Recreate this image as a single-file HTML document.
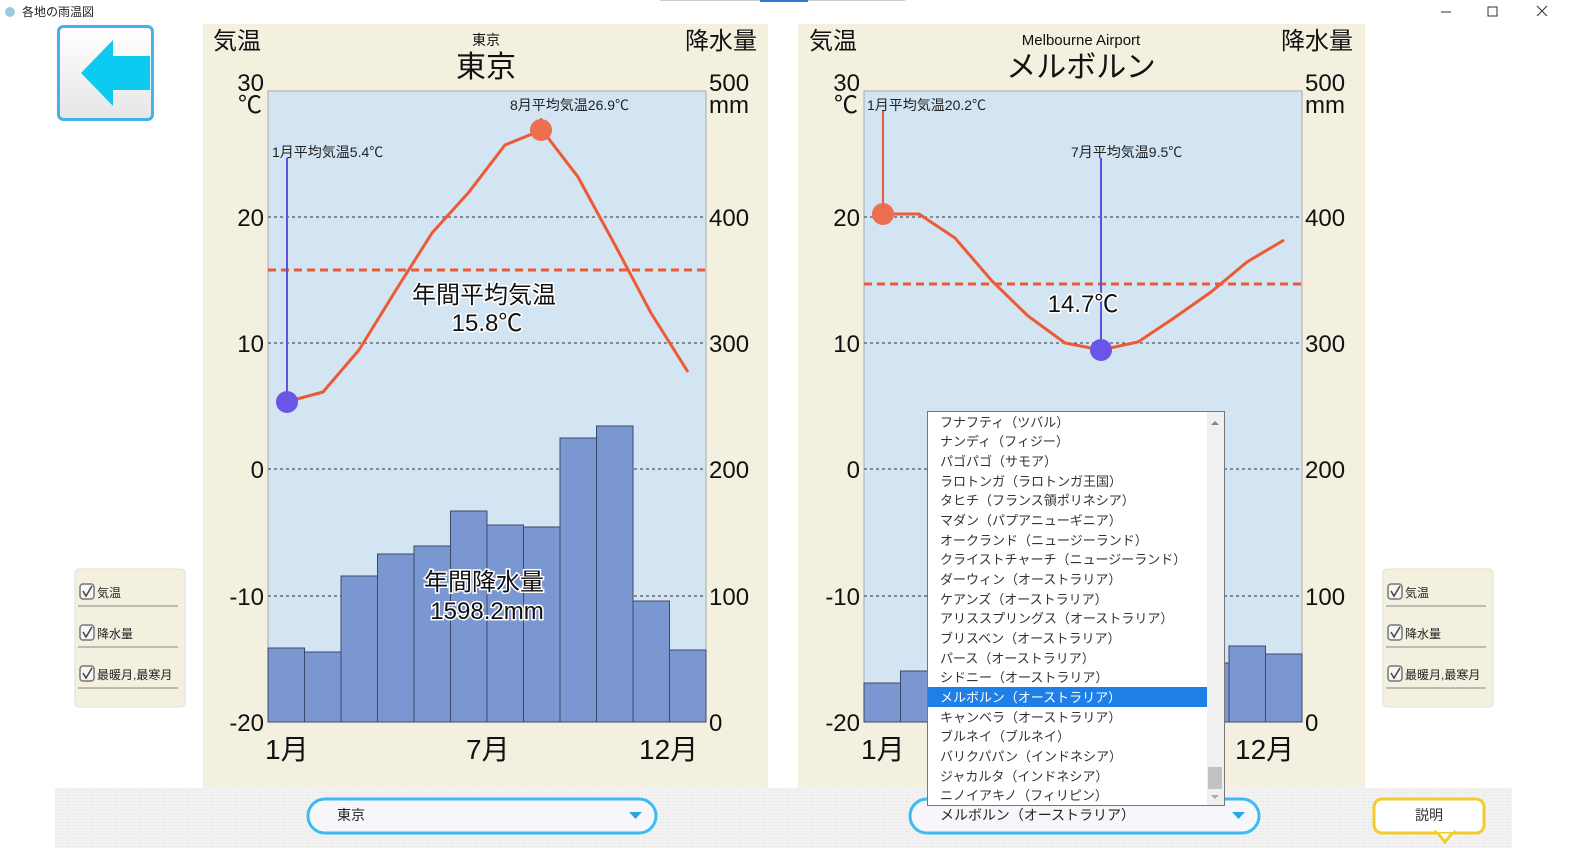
<!DOCTYPE html><html><head><meta charset="utf-8"><style>
body{margin:0;width:1580px;height:848px;overflow:hidden;background:#fff;font-family:"Liberation Sans","Noto Sans CJK JP",sans-serif}
svg{display:block}
</style></head><body>
<svg width="1580" height="848" viewBox="0 0 1580 848" font-family="Liberation Sans, Noto Sans CJK JP, sans-serif">
<defs>
<linearGradient id="bg1" x1="0" y1="0" x2="0" y2="1"><stop offset="0" stop-color="#fff"/><stop offset="1" stop-color="#e6e6e6"/></linearGradient>
<pattern id="dots" width="3" height="3" patternUnits="userSpaceOnUse"><rect width="3" height="3" fill="#f2f2f2"/><rect width="1" height="1" fill="#e2e2e2"/></pattern>
</defs>
<!-- title bar -->
<circle cx="10" cy="12" r="5" fill="#9cc9dc"/>
<text x="22" y="16" font-size="12" fill="#222">各地の雨温図</text>
<line x1="660" y1="0.5" x2="905" y2="0.5" stroke="#ccc"/>
<line x1="760" y1="1" x2="808" y2="1" stroke="#2b7bd0" stroke-width="2"/>
<line x1="1441" y1="12" x2="1451" y2="12" stroke="#333"/>
<rect x="1488" y="7" width="9" height="9" fill="none" stroke="#333"/>
<path d="M1537 6l10 10M1547 6l-10 10" stroke="#333"/>
<!-- back button -->
<rect x="58.5" y="26.5" width="94" height="93" rx="5" fill="url(#bg1)" stroke="#44b3e8" stroke-width="3"/>
<path d="M81 73 L113 40 L113 56 L150 56 L150 90 L113 90 L113 106 Z" fill="#0ccaf0"/>
<!-- panels -->
<rect x="203" y="24" width="565" height="764" fill="#f3f0df"/>
<rect x="798" y="24" width="567" height="764" fill="#f3f0df"/>
<!-- LEFT CHART -->
<g>
<rect x="268" y="91" width="438" height="631" fill="#d3e4f3" stroke="#aaa"/>
<g stroke="#555" stroke-dasharray="3,3" stroke-width="1.2">
<line x1="268" y1="217" x2="706" y2="217"/><line x1="268" y1="343" x2="706" y2="343"/><line x1="268" y1="469" x2="706" y2="469"/><line x1="268" y1="596" x2="706" y2="596"/>
</g>
<g fill="#7b97d1" stroke="#3c4a6a" stroke-width="1">
<rect x="268" y="648" width="36.5" height="74"/><rect x="304.5" y="652" width="36.5" height="70"/><rect x="341" y="576" width="36.5" height="146"/><rect x="377.5" y="554" width="36.5" height="168"/><rect x="414" y="546" width="36.5" height="176"/><rect x="450.5" y="511" width="36.5" height="211"/><rect x="487" y="525" width="36.5" height="197"/><rect x="523.5" y="527" width="36.5" height="195"/><rect x="560" y="438" width="36.5" height="284"/><rect x="596.5" y="426" width="36.5" height="296"/><rect x="633" y="601" width="36.5" height="121"/><rect x="669.5" y="650" width="36.5" height="72"/>
</g>
<line x1="268" y1="270" x2="706" y2="270" stroke="#e85a3a" stroke-width="3" stroke-dasharray="8,5"/>
<polyline points="286,402 323,392 359,350 396,290 432,233 469,192 505,145 542,130 578,177 615,245 651,313 688,372" fill="none" stroke="#ec5a36" stroke-width="3"/>
<line x1="287" y1="158" x2="287" y2="402" stroke="#6050e0" stroke-width="2"/>
<line x1="541" y1="118" x2="541" y2="130" stroke="#e85a3a" stroke-width="2"/>
<circle cx="287" cy="402" r="11" fill="#6a55e8"/>
<circle cx="541" cy="130" r="11" fill="#ee6f4f"/>
<text x="272" y="157" font-size="14" fill="#222">1月平均気温5.4℃</text>
<text x="510" y="110" font-size="14" fill="#222">8月平均気温26.9℃</text>
<g font-size="24" fill="#111" text-anchor="middle" stroke="#fff" stroke-width="3" paint-order="stroke">
<text x="484" y="303">年間平均気温</text><text x="487" y="331">15.8℃</text>
<text x="484" y="590">年間降水量</text><text x="487" y="619">1598.2mm</text>
</g>
<g font-size="24" fill="#111">
<text x="213" y="49">気温</text><text x="685" y="49">降水量</text>
<text x="486" y="45" font-size="14" text-anchor="middle">東京</text>
<text x="486" y="77" font-size="30" text-anchor="middle">東京</text>
<g text-anchor="end"><text x="264" y="91">30</text><text x="262" y="113">℃</text><text x="264" y="226">20</text><text x="264" y="352">10</text><text x="264" y="478">0</text><text x="264" y="605">-10</text><text x="264" y="731">-20</text></g>
<text x="709" y="91">500</text><text x="709" y="113">mm</text><text x="709" y="226">400</text><text x="709" y="352">300</text><text x="709" y="478">200</text><text x="709" y="605">100</text><text x="709" y="731">0</text>
<g font-size="28"><text x="265" y="759">1月</text><text x="466" y="759">7月</text><text x="639" y="759">12月</text></g>
</g>
</g>
<!-- RIGHT CHART -->
<g>
<rect x="864" y="91" width="438" height="631" fill="#d3e4f3" stroke="#aaa"/>
<g stroke="#555" stroke-dasharray="3,3" stroke-width="1.2">
<line x1="864" y1="217" x2="1302" y2="217"/><line x1="864" y1="343" x2="1302" y2="343"/><line x1="864" y1="469" x2="1302" y2="469"/><line x1="864" y1="596" x2="1302" y2="596"/>
</g>
<g fill="#7b97d1" stroke="#3c4a6a" stroke-width="1">
<rect x="864" y="683" width="36.5" height="39"/><rect x="900.5" y="671" width="36.5" height="51"/><rect x="937" y="675" width="36.5" height="47"/><rect x="973.5" y="668" width="36.5" height="54"/><rect x="1010" y="672" width="36.5" height="50"/><rect x="1046.5" y="678" width="36.5" height="44"/><rect x="1083" y="680" width="36.5" height="42"/><rect x="1119.5" y="674" width="36.5" height="48"/><rect x="1156" y="666" width="36.5" height="56"/><rect x="1192.5" y="663" width="36.5" height="59"/><rect x="1229" y="646" width="36.5" height="76"/><rect x="1265.5" y="654" width="36.5" height="68"/>
</g>
<line x1="864" y1="284" x2="1302" y2="284" stroke="#e85a3a" stroke-width="3" stroke-dasharray="8,5"/>
<polyline points="882,214 919,214 955,238 992,281 1028,316 1065,343 1101,350 1138,342 1174,318 1211,292 1247,262 1284,240" fill="none" stroke="#ec5a36" stroke-width="3"/>
<line x1="883" y1="110" x2="883" y2="214" stroke="#e85a3a" stroke-width="2"/>
<line x1="1101" y1="158" x2="1101" y2="350" stroke="#6050e0" stroke-width="2"/>
<circle cx="883" cy="214" r="11" fill="#ee6f4f"/>
<circle cx="1101" cy="350" r="11" fill="#6a55e8"/>
<text x="867" y="110" font-size="14" fill="#222">1月平均気温20.2℃</text>
<text x="1071" y="157" font-size="14" fill="#222">7月平均気温9.5℃</text>
<text x="1083" y="312" font-size="24" fill="#111" text-anchor="middle" stroke="#fff" stroke-width="3" paint-order="stroke">14.7℃</text>
<g font-size="24" fill="#111">
<text x="809" y="49">気温</text><text x="1281" y="49">降水量</text>
<text x="1081" y="45" font-size="15" text-anchor="middle">Melbourne Airport</text>
<text x="1081" y="77" font-size="30" text-anchor="middle">メルボルン</text>
<g text-anchor="end"><text x="860" y="91">30</text><text x="858" y="113">℃</text><text x="860" y="226">20</text><text x="860" y="352">10</text><text x="860" y="478">0</text><text x="860" y="605">-10</text><text x="860" y="731">-20</text></g>
<text x="1305" y="91">500</text><text x="1305" y="113">mm</text><text x="1305" y="226">400</text><text x="1305" y="352">300</text><text x="1305" y="478">200</text><text x="1305" y="605">100</text><text x="1305" y="731">0</text>
<g font-size="28"><text x="861" y="759">1月</text><text x="1235" y="759">12月</text></g>
</g>
</g>
<!-- checkbox panels -->
<g id="cb">
<rect x="75" y="569" width="110" height="138" rx="4" fill="#f3f0df" stroke="#e2e0d6"/>
<g font-size="12" fill="#222">
<rect x="80" y="584" width="14" height="15" rx="3" fill="#f6f6f6" stroke="#777" stroke-width="1.5"/><path d="M83 591l3 5 6-10" fill="none" stroke="#444" stroke-width="1.5"/><text x="97" y="597">気温</text>
<line x1="78" y1="606" x2="178" y2="606" stroke="#aaa" stroke-width="1.5"/>
<rect x="80" y="625" width="14" height="15" rx="3" fill="#f6f6f6" stroke="#777" stroke-width="1.5"/><path d="M83 632l3 5 6-10" fill="none" stroke="#444" stroke-width="1.5"/><text x="97" y="638">降水量</text>
<line x1="78" y1="647" x2="178" y2="647" stroke="#aaa" stroke-width="1.5"/>
<rect x="80" y="666" width="14" height="15" rx="3" fill="#f6f6f6" stroke="#777" stroke-width="1.5"/><path d="M83 673l3 5 6-10" fill="none" stroke="#444" stroke-width="1.5"/><text x="97" y="679">最暖月,最寒月</text>
<line x1="78" y1="688" x2="178" y2="688" stroke="#aaa" stroke-width="1.5"/>
</g>
</g>
<use href="#cb" x="1308"/>
<!-- bottom bar -->
<rect x="55" y="788" width="1457" height="60" fill="url(#dots)"/>
<rect x="308" y="799" width="348" height="34" rx="17" fill="#f7f7fb" stroke="#3bbbee" stroke-width="3"/>
<text x="337" y="820" font-size="14" fill="#222">東京</text>
<path d="M629 812h13l-6.5 7z" fill="#2aa6e6"/>
<rect x="910" y="799" width="349" height="34" rx="17" fill="#f7f7fb" stroke="#3bbbee" stroke-width="3"/>
<text x="940" y="820" font-size="14" fill="#222">メルボルン（オーストラリア）</text>
<path d="M1232 812h13l-6.5 7z" fill="#2aa6e6"/>
<rect x="1374" y="799" width="110" height="34" rx="8" fill="#fff" stroke="#f2cc2a" stroke-width="3"/>
<path d="M1437 832l8 10 8-10z" fill="#fff" stroke="#f2cc2a" stroke-width="3"/>
<rect x="1437" y="829" width="16" height="3" fill="#fff"/>
<text x="1429" y="820" font-size="14" fill="#333" text-anchor="middle">説明</text>
<!-- dropdown list -->
<rect x="927.5" y="411.5" width="297" height="394" fill="#fff" stroke="#777"/>
<rect x="1207" y="412" width="17" height="393" fill="#f0f0f0"/>
<rect x="1208" y="767" width="14" height="22" fill="#c2c2c2"/>
<path d="M1211 425l4-4 4 4z" fill="#888"/><path d="M1211 795l4 4 4-4z" fill="#aaa"/>
<rect x="928" y="687" width="279" height="20" fill="#1e7fe6"/>
<g font-size="13" fill="#333">
<text x="940" y="427">フナフティ（ツバル）</text>
<text x="940" y="446">ナンディ（フィジー）</text>
<text x="940" y="466">パゴパゴ（サモア）</text>
<text x="940" y="486">ラロトンガ（ラロトンガ王国）</text>
<text x="940" y="505">タヒチ（フランス領ポリネシア）</text>
<text x="940" y="525">マダン（パプアニューギニア）</text>
<text x="940" y="545">オークランド（ニュージーランド）</text>
<text x="940" y="564">クライストチャーチ（ニュージーランド）</text>
<text x="940" y="584">ダーウィン（オーストラリア）</text>
<text x="940" y="604">ケアンズ（オーストラリア）</text>
<text x="940" y="623">アリススプリングス（オーストラリア）</text>
<text x="940" y="643">ブリスベン（オーストラリア）</text>
<text x="940" y="663">パース（オーストラリア）</text>
<text x="940" y="682">シドニー（オーストラリア）</text>
<text x="940" y="702" fill="#fff">メルボルン（オーストラリア）</text>
<text x="940" y="722">キャンベラ（オーストラリア）</text>
<text x="940" y="741">ブルネイ（ブルネイ）</text>
<text x="940" y="761">バリクパパン（インドネシア）</text>
<text x="940" y="781">ジャカルタ（インドネシア）</text>
<text x="940" y="800">ニノイアキノ（フィリピン）</text>
</g>
</svg>
</body></html>
